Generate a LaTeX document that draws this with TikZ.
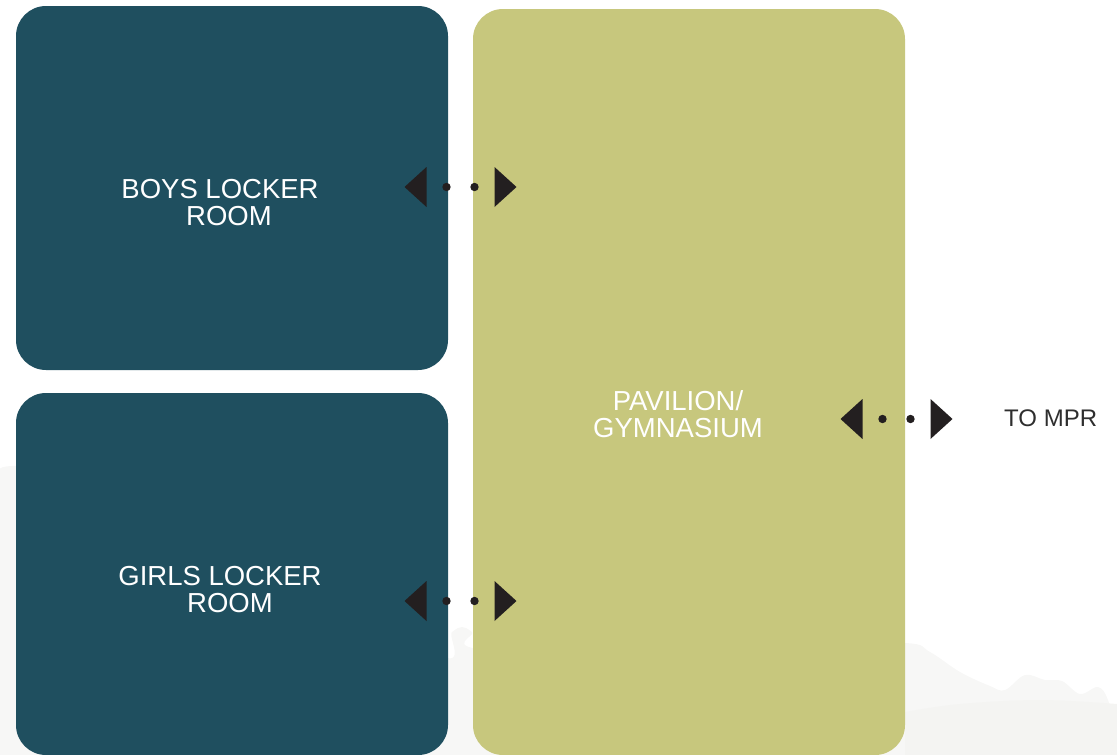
\documentclass[tikz,border=0pt]{standalone}
\usepackage{fontspec}
\setmainfont{Liberation Sans}
\usetikzlibrary{calc}
\definecolor{teal1}{RGB}{31,79,95}
\definecolor{olive1}{RGB}{199,199,125}
\definecolor{tri}{RGB}{35,31,32}
\definecolor{hill1}{RGB}{247,247,246}
\definecolor{hill2}{RGB}{244,244,242}
\begin{document}
\begin{tikzpicture}[x=1pt,y=-1pt,
  room/.style={fill=teal1, rounded corners=30pt, inner sep=0pt, minimum width=432pt},
  hall/.style={fill=olive1, rounded corners=30pt, inner sep=0pt, minimum width=432pt},
  lbl/.style={text=white, font=\fontsize{27.5}{27}\selectfont, align=center, inner sep=0pt},
  side/.style={text=black!82, font=\fontsize{24}{24}\selectfont, inner sep=0pt},
  link/.pic={
    \fill[tri] (-56,0) -- (-34,-20) -- (-34,20) -- cycle;
    \fill[tri] (56,0) -- (34,-20) -- (34,20) -- cycle;
    \fill[tri] (-14,0) circle[radius=4.2];
    \fill[tri] (14,0) circle[radius=4.2];
  }]
\useasboundingbox (0,0) rectangle (1117,755);
% background hills
\fill[hill1] plot[smooth, tension=0.6] coordinates {(0,472) (25,466) (200,480) (430,650) (452,632) (462,627) (472,632) (494,650) (800,645) (905,643) (930,652) (960,672) (990,686) (1005,690) (1025,675) (1045,680) (1062,681) (1080,694) (1098,687) (1108,700) (1117,735)} -- (1117,755) -- (0,755) -- cycle;
\fill[hill2] plot[smooth, tension=0.6] coordinates {(905,712) (960,704) (1040,700) (1117,704)} -- (1117,755) -- (905,755) -- cycle;
% rooms
\node[room, minimum height=364pt] (boys) at (232,188) {};
\node[room, minimum height=362pt] (girls) at (232,574) {};
\node[hall, minimum height=746pt] (gym) at (689,382) {};
% labels
\node[lbl] (boystext) at (220,203) {BOYS LOCKER\\\hspace*{18pt}ROOM};
\node[lbl] (girlstext) at (220,590) {GIRLS LOCKER\\\hspace*{20pt}ROOM};
\node[lbl] (gymtext) at (678,414) {PAVILION/\\GYMNASIUM};
\node[side, anchor=west] (mpr) at (1004,418) {TO MPR};
% connectors
\coordinate (c1) at ($(boys.east)!0.5!(gym.west)$);
\coordinate (c2) at (460.5,601);
\coordinate (c3) at (896.5,419);
\path (c1 |- 0,187) pic {link};
\path (c2) pic {link};
\path (c3) pic {link};
\end{tikzpicture}
\end{document}
